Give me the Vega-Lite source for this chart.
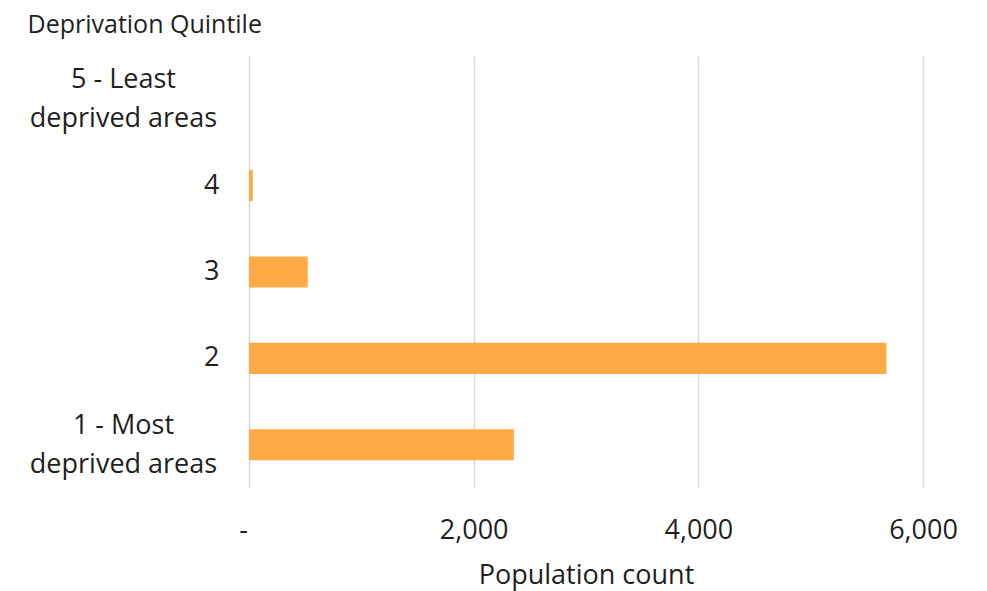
{
  "$schema": "https://vega.github.io/schema/vega-lite/v6.json",
  "autosize": "none",
  "width": 674,
  "height": 432,
  "padding": {"left": 249, "top": 56, "right": 64, "bottom": 103},
  "background": "white",
  "config": {
    "view": {"stroke": null},
    "font": "Open Sans"
  },
  "data": {
    "values": [
      {"quintile": "5 - Least deprived areas", "population": 0},
      {"quintile": "4", "population": 34},
      {"quintile": "3", "population": 523},
      {"quintile": "2", "population": 5675},
      {"quintile": "1 - Most deprived areas", "population": 2358}
    ]
  },
  "mark": {"type": "bar", "color": "#FFAB45"},
  "encoding": {
    "y": {
      "field": "quintile",
      "type": "nominal",
      "sort": ["5 - Least deprived areas", "4", "3", "2", "1 - Most deprived areas"],
      "scale": {"paddingInner": 0.64, "paddingOuter": 0.32},
      "axis": {
        "title": "Deprivation Quintile",
        "titleAngle": 0,
        "titleAlign": "left",
        "titleBaseline": "alphabetic",
        "titleX": -222,
        "titleY": -24,
        "titleFont": "Open Sans",
        "titleFontSize": 25,
        "titleFontWeight": "normal",
        "titleColor": "#1f1f1f",
        "domain": false,
        "ticks": false,
        "grid": false,
        "labelFont": "Open Sans",
        "labelFontSize": 27,
        "labelColor": "#1f1f1f",
        "labelLineHeight": 39,
        "labelLimit": 300,
        "labelExpr": "indexof(datum.value, ' deprived') > 0 ? [slice(datum.value, 0, indexof(datum.value, ' deprived')), 'deprived areas'] : datum.value",
        "labelAlign": {"condition": {"test": "length(datum.value) > 2", "value": "center"}, "value": "right"},
        "labelPadding": {"condition": {"test": "length(datum.value) > 2", "value": 126}, "value": 30},
        "labelOffset": {"condition": {"test": "length(datum.value) > 2", "value": -19}, "value": 0}
      }
    },
    "x": {
      "field": "population",
      "type": "quantitative",
      "scale": {"domain": [0, 6000], "nice": false},
      "axis": {
        "title": "Population count",
        "titleFont": "Open Sans",
        "titleFontSize": 27,
        "titleFontWeight": "normal",
        "titleColor": "#1f1f1f",
        "titlePadding": 19,
        "values": [0, 2000, 4000, 6000],
        "labelFlush": false,
        "labelExpr": "datum.value == 0 ? '-' : format(datum.value, ',')",
        "labelOffset": {"condition": {"test": "datum.value == 0", "value": -6}, "value": 0},
        "labelFont": "Open Sans",
        "labelFontSize": 27,
        "labelColor": "#1f1f1f",
        "labelPadding": 29,
        "domain": false,
        "ticks": false,
        "grid": true,
        "gridColor": "#d9d9d9",
        "gridWidth": 1.5
      }
    }
  }
}
